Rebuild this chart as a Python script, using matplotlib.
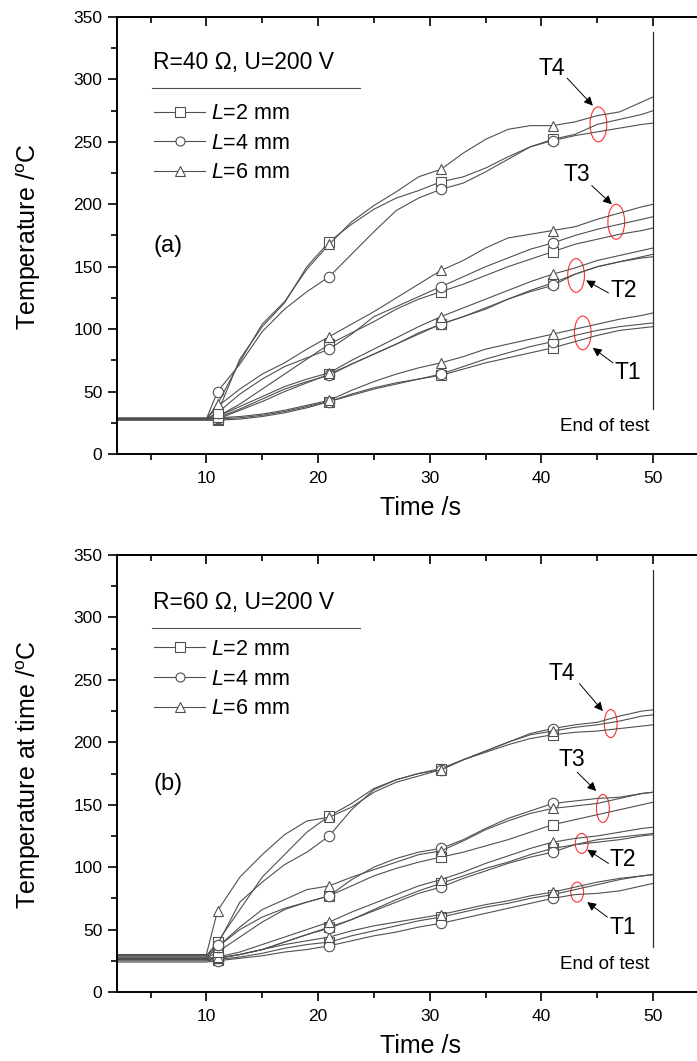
import matplotlib
matplotlib.use('Agg')
import matplotlib.pyplot as plt
from matplotlib.patches import Ellipse
from matplotlib.lines import Line2D
from matplotlib.ticker import MultipleLocator

plt.rcParams['font.family'] = ['Liberation Sans', 'DejaVu Sans']
plt.rcParams['mathtext.fontset'] = 'custom'
plt.rcParams['mathtext.rm'] = 'Liberation Sans'
plt.rcParams['mathtext.it'] = 'Liberation Sans:italic'

# ---------------- data ----------------
time_s = [2, 10, 11, 13, 15, 17, 19, 21, 23, 25, 27, 29, 31, 33, 35, 37, 39, 41, 43, 45, 47, 49, 50]
marker_times = [11, 21, 31, 41]
lengths = ['2', '4', '6']
thermocouples = ['T1', 'T2', 'T3', 'T4']

# panel (a): R=40 ohm
a_T1_L2 = [27, 27, 27, 28, 30, 33, 37, 42, 48, 53, 57, 60, 63, 68, 73, 77, 81, 85, 90, 95, 99, 101, 102]
a_T1_L4 = [28, 28, 28, 29, 31, 34, 38, 42, 47, 52, 56, 60, 64, 70, 76, 81, 86, 90, 95, 99, 102, 104, 105]
a_T1_L6 = [29, 29, 29, 30, 32, 35, 39, 43, 51, 58, 64, 69, 73, 78, 84, 88, 92, 96, 100, 104, 108, 111, 113]
a_T2_L2 = [28, 28, 28, 35, 42, 50, 57, 64, 72, 80, 88, 96, 104, 110, 116, 124, 131, 137, 144, 150, 154, 157, 158]
a_T2_L4 = [28, 28, 29, 36, 44, 52, 58, 63, 72, 80, 88, 97, 104, 110, 117, 124, 130, 135, 144, 150, 154, 158, 160]
a_T2_L6 = [28, 28, 30, 38, 46, 54, 60, 65, 75, 84, 93, 102, 110, 117, 124, 131, 138, 144, 149, 155, 159, 163, 165]
a_T3_L2 = [28, 28, 30, 40, 52, 64, 76, 88, 97, 106, 116, 124, 130, 136, 143, 150, 156, 162, 168, 172, 176, 179, 181]
a_T3_L4 = [28, 28, 33, 48, 60, 70, 77, 84, 96, 110, 118, 126, 134, 142, 150, 157, 164, 169, 175, 180, 184, 188, 190]
a_T3_L6 = [28, 28, 38, 52, 64, 73, 84, 94, 104, 114, 125, 136, 147, 155, 165, 173, 176, 179, 182, 188, 193, 198, 200]
a_T4_L2 = [28, 28, 33, 76, 102, 121, 150, 170, 184, 196, 205, 211, 218, 222, 229, 238, 246, 252, 256, 264, 268, 272, 275]
a_T4_L4 = [28, 28, 50, 72, 98, 116, 130, 142, 160, 178, 195, 205, 212, 217, 226, 236, 246, 251, 255, 258, 261, 264, 265]
a_T4_L6 = [28, 28, 40, 74, 104, 122, 148, 168, 186, 199, 210, 222, 228, 241, 252, 260, 263, 263, 266, 271, 274, 282, 286]

# panel (b): R=60 ohm
b_T1_L2 = [25, 25, 26, 28, 31, 35, 38, 40, 45, 49, 53, 57, 60, 64, 68, 71, 75, 78, 82, 86, 90, 93, 94]
b_T1_L4 = [24, 24, 25, 27, 29, 32, 34, 37, 41, 45, 48, 52, 55, 59, 63, 67, 71, 75, 78, 79, 81, 85, 87]
b_T1_L6 = [27, 27, 27, 30, 34, 38, 41, 44, 49, 53, 56, 59, 62, 66, 70, 73, 77, 80, 84, 88, 91, 93, 94]
b_T2_L2 = [26, 26, 27, 30, 34, 40, 46, 52, 58, 66, 74, 81, 87, 93, 99, 104, 110, 115, 118, 120, 122, 125, 126]
b_T2_L4 = [26, 26, 27, 30, 34, 40, 46, 51, 58, 65, 72, 79, 84, 91, 97, 103, 108, 112, 118, 122, 124, 126, 127]
b_T2_L6 = [27, 27, 28, 32, 38, 44, 50, 56, 64, 71, 78, 85, 90, 96, 103, 109, 115, 120, 123, 125, 128, 131, 132]
b_T3_L2 = [27, 27, 32, 44, 56, 66, 72, 77, 85, 93, 99, 104, 108, 112, 117, 122, 128, 134, 138, 142, 146, 150, 152]
b_T3_L4 = [27, 27, 36, 50, 60, 67, 72, 77, 90, 100, 107, 112, 115, 122, 131, 139, 145, 151, 153, 155, 156, 159, 160]
b_T3_L6 = [28, 28, 36, 52, 66, 74, 82, 85, 92, 98, 104, 110, 113, 121, 130, 137, 143, 147, 149, 151, 155, 159, 160]
b_T4_L2 = [29, 29, 40, 66, 92, 110, 128, 141, 151, 163, 170, 175, 179, 186, 192, 198, 203, 206, 208, 209, 211, 213, 214]
b_T4_L4 = [29, 29, 38, 72, 88, 102, 112, 125, 146, 162, 170, 175, 178, 186, 193, 200, 207, 211, 214, 216, 221, 225, 226]
b_T4_L6 = [30, 30, 65, 92, 110, 126, 137, 140, 148, 160, 168, 173, 178, 186, 193, 200, 206, 209, 212, 214, 217, 221, 222]

panel_a = [[a_T1_L2, a_T1_L4, a_T1_L6], [a_T2_L2, a_T2_L4, a_T2_L6],
           [a_T3_L2, a_T3_L4, a_T3_L6], [a_T4_L2, a_T4_L4, a_T4_L6]]
panel_b = [[b_T1_L2, b_T1_L4, b_T1_L6], [b_T2_L2, b_T2_L4, b_T2_L6],
           [b_T3_L2, b_T3_L4, b_T3_L6], [b_T4_L2, b_T4_L4, b_T4_L6]]

# ---------------- styling ----------------
markers = ['s', 'o', '^']
line_col = '#505050'
mark_every = [time_s.index(t) for t in marker_times]

W, H = 697, 1061
fig = plt.figure(figsize=(W / 100, H / 100), dpi=100)

ax_left = 117 / W
ax_w = 592 / W
ax_h = 437 / H
ax_a = fig.add_axes([ax_left, 1 - 454 / H, ax_w, ax_h])
ax_b = fig.add_axes([ax_left, 1 - 992 / H, ax_w, ax_h])


def style_axes(ax):
    ax.set_xlim(2, 55)
    ax.set_ylim(0, 350)
    ax.xaxis.set_major_locator(MultipleLocator(10))
    ax.xaxis.set_minor_locator(MultipleLocator(5))
    ax.yaxis.set_major_locator(MultipleLocator(50))
    ax.yaxis.set_minor_locator(MultipleLocator(25))
    for s in ['left', 'bottom', 'top']:
        ax.spines[s].set_linewidth(1.4)
    ax.spines['right'].set_visible(False)
    ax.tick_params(axis='both', which='major', length=6.5, width=1.2, labelsize=12.5, direction='out')
    ax.tick_params(axis='both', which='minor', length=4, width=1.2, direction='out')
    ax.tick_params(axis='x', which='both', pad=6)
    ax.tick_params(axis='y', which='both', pad=4)
    sec = ax.secondary_xaxis('top')
    sec.xaxis.set_major_locator(MultipleLocator(10))
    sec.xaxis.set_minor_locator(MultipleLocator(5))
    sec.tick_params(which='major', direction='in', length=6.5, width=1.2, labeltop=False)
    sec.tick_params(which='minor', direction='in', length=4, width=1.2)
    sec.spines['top'].set_linewidth(1.4)
    ax.tick_params(axis='x', which='both', top=False)


def draw_panel(ax, data, title, tag, annots, ell_w, title_y, legend_y):
    for group in data:
        for li, series in enumerate(group):
            ax.plot(time_s, series, color=line_col, lw=0.8, marker=markers[li],
                    markevery=mark_every, ms=7.5, mfc='white', mec=line_col, mew=0.8)
    handles = [Line2D([0], [0], color=line_col, lw=0.8, marker=markers[li], ms=6.5,
                      mfc='white', mec=line_col, mew=0.8) for li in range(len(lengths))]
    labels = ['$\\mathit{L}$=%s mm' % L for L in lengths]

    # end of test line
    ax.plot([50, 50], [36, 338], color='#303030', lw=0.9)
    ax.text(45.7, 22, 'End of test', fontsize=13.5, ha='center', va='center')

    # legend title and separator
    ax.text(0.061, title_y, title, transform=ax.transAxes, fontsize=16.5, ha='left', va='center')
    ax.plot([0.059, 0.41], [title_y - 0.058, title_y - 0.058], transform=ax.transAxes,
            color='#505050', lw=0.8)
    ax.legend(handles, labels, loc='upper left', bbox_to_anchor=(0.0625, legend_y),
              frameon=False, fontsize=15.5, handlelength=2.37, handletextpad=0.28,
              labelspacing=0.40, borderpad=0, borderaxespad=0)

    ax.text(0.061, 0.476, tag, transform=ax.transAxes, fontsize=17, ha='left', va='center')

    for (lab, txy, a0, a1, ec, eh) in annots:
        ax.text(txy[0], txy[1], lab, fontsize=16.5, ha='center', va='center')
        ax.annotate('', xy=a1, xytext=a0,
                    arrowprops=dict(arrowstyle='-|>', color='black', lw=0.7, mutation_scale=13,
                                    shrinkA=0, shrinkB=0))
        ax.add_patch(Ellipse(ec, ell_w, eh, fill=False, edgecolor='#ff3030', lw=0.8))


annots_a = [
    ('T4', (40.9, 309), (42.3, 301), (44.6, 279), (45.1, 264), 28),
    ('T3', (43.2, 224), (44.5, 215), (46.3, 200), (46.7, 186), 28),
    ('T2', (47.4, 131), (46.0, 129), (44.0, 139), (43.1, 143), 27),
    ('T1', (47.7, 65), (46.4, 73), (44.6, 85), (43.7, 97), 27),
]
annots_b = [
    ('T4', (41.8, 255), (43.4, 247), (45.5, 225), (46.2, 215), 22.5),
    ('T3', (42.7, 186), (43.2, 176), (44.9, 161), (45.5, 147), 22.5),
    ('T2', (47.3, 106), (46.0, 103), (44.1, 114), (43.6, 119), 16),
    ('T1', (47.3, 52), (45.9, 60), (44.1, 72), (43.2, 80), 16),
]

style_axes(ax_a)
style_axes(ax_b)
draw_panel(ax_a, panel_a, 'R=40 \u03a9, U=200 V', '(a)', annots_a, 1.5, 0.895, 0.803)
draw_panel(ax_b, panel_b, 'R=60 \u03a9, U=200 V', '(b)', annots_b, 1.15, 0.892, 0.808)

fig.text(29 / W, 1 - 237 / H, 'Temperature /$^{\\rm o}$C', rotation=90, ha='center', va='center', fontsize=18)
fig.text(29 / W, 1 - 775 / H, 'Temperature at time /$^{\\rm o}$C', rotation=90, ha='center', va='center', fontsize=18)
fig.text(420 / W, 1 - 508 / H, 'Time /s', ha='center', va='center', fontsize=18)
fig.text(420 / W, 1 - 1046 / H, 'Time /s', ha='center', va='center', fontsize=18)

fig.savefig('out.png', dpi=100)
